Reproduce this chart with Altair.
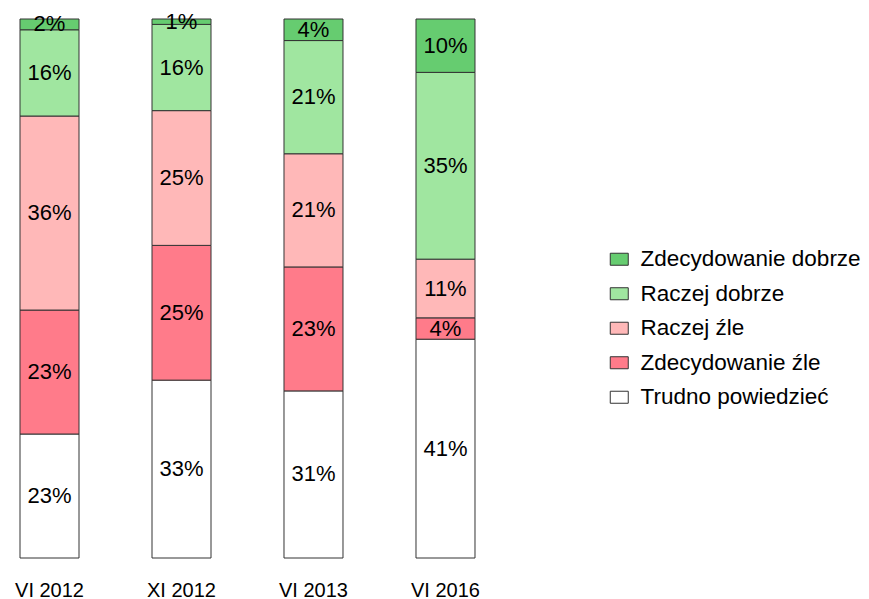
import altair as alt
import pandas as pd

periods = ["VI 2012", "XI 2012", "VI 2013", "VI 2016"]
categories = ["Trudno powiedzieć", "Zdecydowanie źle", "Raczej źle", "Raczej dobrze", "Zdecydowanie dobrze"]
colors = ["#ffffff", "#ff7b8a", "#ffb8b8", "#a0e6a0", "#66cc70"]

trudno = [23, 33, 31, 41]
zdec_zle = [23, 25, 23, 4]
raczej_zle = [36, 25, 21, 11]
raczej_dobrze = [16, 16, 21, 35]
zdec_dobrze = [2, 1, 4, 10]

series = [trudno, zdec_zle, raczej_zle, raczej_dobrze, zdec_dobrze]
rows = []
for ci, (cat, vals) in enumerate(zip(categories, series)):
    for p, v in zip(periods, vals):
        rows.append({"period": p, "category": cat, "value": v, "order": ci})
df = pd.DataFrame(rows)

FONT = "Liberation Sans"

base = alt.Chart(df).transform_stack(
    stack="value",
    as_=["y0", "y1"],
    groupby=["period"],
    sort=[alt.SortField("order", order="ascending")],
    offset="normalize",
).transform_calculate(
    mid="(datum.y0 + datum.y1) / 2",
    label="datum.value + '%'",
)

xenc = alt.X(
    "period:N",
    sort=periods,
    title=None,
    scale=alt.Scale(paddingInner=0.553, paddingOuter=0.091),
    axis=alt.Axis(domain=False, ticks=False, labelAngle=0, labelFont=FONT,
                  labelFontSize=20, labelColor="#000000", labelPadding=22),
)

bars = base.mark_bar(stroke="#333333", strokeWidth=1).encode(
    x=xenc,
    y=alt.Y("y0:Q", scale=alt.Scale(domain=[0, 1], nice=False), axis=None),
    y2="y1:Q",
    color=alt.Color(
        "category:N",
        scale=alt.Scale(domain=categories[::-1], range=colors[::-1]),
        legend=alt.Legend(
            title=None,
            orient="none",
            legendX=600,
            legendY=229,
            labelFont=FONT,
            labelFontSize=22.5,
            labelColor="#000000",
            labelLimit=400,
            symbolType="M-1,-0.667H1V0.667H-1Z",
            symbolSize=324,
            symbolStrokeColor="#333333",
            symbolStrokeWidth=1,
            symbolOpacity=1,
            labelOffset=10,
            rowPadding=11.5,
        ),
    ),
)

texts = base.mark_text(font=FONT, fontSize=22, color="#000000", baseline="middle").encode(
    x=alt.X("period:N", sort=periods),
    y=alt.Y("mid:Q"),
    text="label:N",
)

chart = (bars + texts).properties(
    width=479,
    height=539,
    padding={"top": 2, "left": 0, "right": 0, "bottom": 0},
).configure_view(stroke=None)

chart.save("out.html", embed_options={"renderer": "svg", "actions": False})
